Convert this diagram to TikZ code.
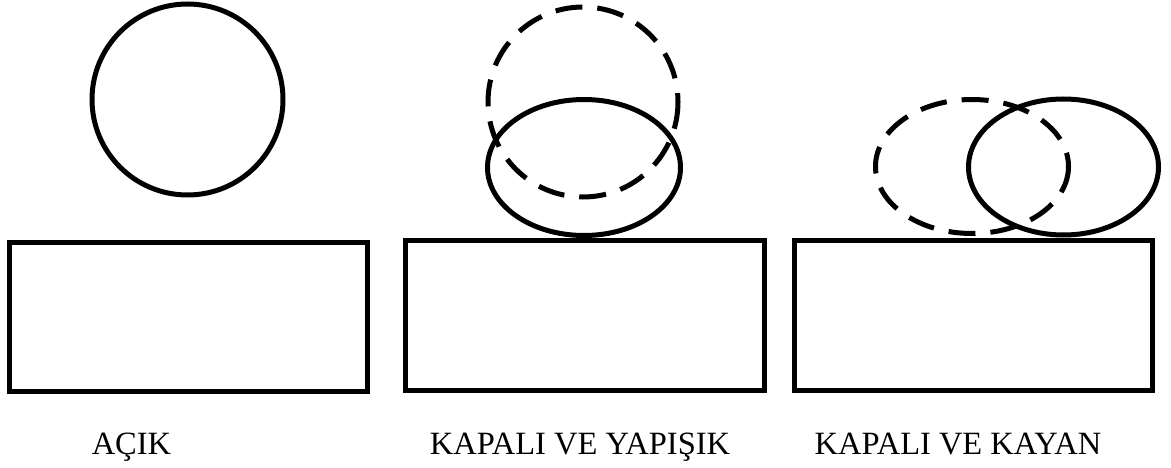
\documentclass[tikz,border=0pt]{standalone}
\usepackage{fontspec}
\setmainfont{Liberation Serif}
\begin{document}
\begin{tikzpicture}[x=1pt,y=-1pt,
  outline/.style={draw=black,line width=5pt},
  ghost/.style={draw=black,line width=5pt,dash pattern=on 27pt off 15pt},
  caption/.style={anchor=base,inner sep=0pt,font=\fontsize{32.5}{38}\selectfont}]
\useasboundingbox (0,0) rectangle (1171,468);
% open: ball lifted off the block
\draw[outline] (187.5,99.5) circle (95.5);
\draw[outline] (9.5,242.5) rectangle (367.5,391.5);
\node[caption] (open) at (131.5,454) {AÇIK};
% closed and sticking: ball squashed in place
\draw[ghost] (583,102) circle (95);
\draw[outline] (584,167.5) ellipse [x radius=96.5,y radius=68];
\draw[outline] (405.5,240.5) rectangle (764.5,390.5);
\node[caption] (stick) at (580,454) {KAPALI VE YAPIŞIK};
% closed and sliding: squashed ball shifted sideways
\draw[ghost] (972,166.5) ellipse [x radius=96.5,y radius=67];
\draw[outline] (1063.5,167) ellipse [x radius=95,y radius=68];
\draw[outline] (794.5,240.5) rectangle (1152.5,390.5);
\node[caption] (slide) at (958,454) {KAPALI VE KAYAN};
\end{tikzpicture}
\end{document}
